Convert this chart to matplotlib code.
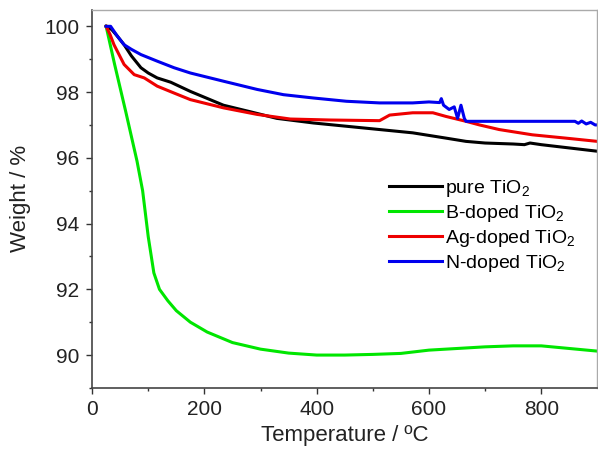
import matplotlib
matplotlib.use("Agg")
import matplotlib.pyplot as plt

plt.rcParams['font.family'] = ['Liberation Sans', 'DejaVu Sans']
plt.rcParams['mathtext.fontset'] = 'custom'
plt.rcParams['mathtext.rm'] = 'Liberation Sans'
plt.rcParams['mathtext.it'] = 'Liberation Sans'
plt.rcParams['mathtext.default'] = 'regular'

# ---- data ----
pure_T = [25, 35, 45, 57, 70, 87, 100, 116, 140, 175, 234, 282, 329, 394, 453,
          512, 571, 630, 666, 700, 750, 770, 780, 800, 850, 900]
pure_W = [100, 99.9, 99.7, 99.44, 99.1, 98.74, 98.58, 98.43, 98.3, 98.02, 97.6,
          97.4, 97.2, 97.06, 96.96, 96.86, 96.76, 96.6, 96.5, 96.45, 96.42, 96.4,
          96.45, 96.4, 96.3, 96.2]

b_T = [25, 40, 60, 80, 90, 100, 110, 120, 135, 150, 175, 205, 250, 300, 350,
       400, 450, 500, 550, 600, 650, 700, 750, 800, 850, 900]
b_W = [100, 98.85, 97.4, 95.9, 95.0, 93.6, 92.5, 92.0, 91.65, 91.35, 91.0, 90.7,
       90.38, 90.18, 90.06, 90.0, 90.0, 90.02, 90.05, 90.15, 90.2, 90.25, 90.28,
       90.28, 90.2, 90.12]

ag_T = [25, 32, 39, 57, 75, 93, 116, 146, 175, 234, 294, 353, 424, 512, 530,
        571, 607, 630, 666, 690, 725, 784, 843, 900]
ag_W = [100, 99.75, 99.44, 98.84, 98.53, 98.43, 98.18, 97.97, 97.77, 97.52, 97.32,
        97.18, 97.15, 97.13, 97.3, 97.37, 97.37, 97.26, 97.11, 97.0, 96.86, 96.7,
        96.6, 96.5]

n_T = [25, 33, 45, 57, 70, 87, 116, 146, 175, 234, 294, 341, 394, 453, 512, 571,
       600, 619, 622, 626, 636, 645, 651, 657, 663, 666, 700, 800, 860, 866, 872,
       880, 888, 896, 900]
n_W = [100, 100, 99.7, 99.44, 99.3, 99.14, 98.94, 98.74, 98.58, 98.33, 98.08,
       97.92, 97.82, 97.72, 97.67, 97.67, 97.7, 97.68, 97.8, 97.6, 97.47, 97.55,
       97.2, 97.6, 97.2, 97.11, 97.11, 97.11, 97.11, 97.05, 97.12, 97.03, 97.08,
       97.0, 97.0]

series = [
    (pure_T, pure_W, 'black', 'pure TiO$_2$'),
    (b_T, b_W, '#00e600', 'B-doped TiO$_2$'),
    (ag_T, ag_W, '#ee0000', 'Ag-doped TiO$_2$'),
    (n_T, n_W, '#0000ee', 'N-doped TiO$_2$'),
]

fig = plt.figure(figsize=(5.98, 4.49), dpi=100)
ax = fig.add_axes([0.154, 0.136, 0.845, 0.842])

for t, w, c, lab in series:
    ax.plot(t, w, color=c, lw=2.2, label=lab)

ax.set_xlim(0, 900)
ax.set_ylim(89, 100.5)
ax.set_xticks([0, 200, 400, 600, 800])
ax.set_xticks(range(100, 900, 200), minor=True)
ax.set_yticks([90, 92, 94, 96, 98, 100])
ax.set_yticks([89, 91, 93, 95, 97, 99], minor=True)
ax.tick_params(which='major', direction='out', length=4, width=1,
               labelsize=15, pad=5, color='#333333', labelcolor='#222222')
ax.tick_params(which='minor', direction='out', length=2.5, width=1, color='#333333')

for s in ['left', 'bottom']:
    ax.spines[s].set_color('#444444')
    ax.spines[s].set_linewidth(1.2)
for s in ['top', 'right']:
    ax.spines[s].set_color('#aaaaaa')
    ax.spines[s].set_linewidth(1.0)

ax.set_xlabel('Temperature / ºC', fontsize=16, color='#222222', labelpad=4)
ax.set_ylabel('Weight / %', fontsize=16, color='#222222', labelpad=10)

ax.legend(loc='upper left', bbox_to_anchor=(0.572, 0.576), frameon=False,
          fontsize=14, handlelength=2.75, handletextpad=0.15, labelspacing=0.2,
          borderaxespad=0)

fig.savefig('out.png', dpi=100)
